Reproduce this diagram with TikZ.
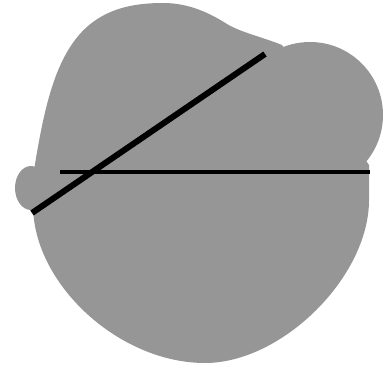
\documentclass[tikz,border=0pt]{standalone}
\definecolor{blob}{RGB}{150,150,150}
\tikzset{blobfill/.style={fill=blob,draw=none},
  thickline/.style={line width=6pt,black},
  thinline/.style={line width=4.5pt,black}}
\begin{document}
\begin{tikzpicture}[x=1pt,y=-1pt]
\useasboundingbox (0,0) rectangle (390,366);
% main body
\fill[blobfill] (34,170) .. controls (44,110) and (55,50) .. (93,22)
 .. controls (112,8) and (135,3) .. (163,3)
 .. controls (185,3) and (205,10) .. (227,24)
 .. controls (240,32) and (262,37) .. (282,45)
 -- (330,110) -- (369,165) -- (369,200)
 .. controls (369,277) and (282,363) .. (205,363)
 .. controls (119,363) and (33,284) .. (33,205) -- cycle;
% upper right lobe
\fill[blobfill] (310,115) circle[radius=73];
% small left bump
\fill[blobfill] (31,188) ellipse[x radius=16,y radius=22];
% lines
\coordinate (a1) at (32,213);
\coordinate (a2) at (265,54);
\coordinate (b1) at (60,172);
\coordinate (b2) at (370,172);
\draw[thickline] (a1) -- (a2);
\draw[thinline] (b1) -- (b2);
\end{tikzpicture}
\end{document}
